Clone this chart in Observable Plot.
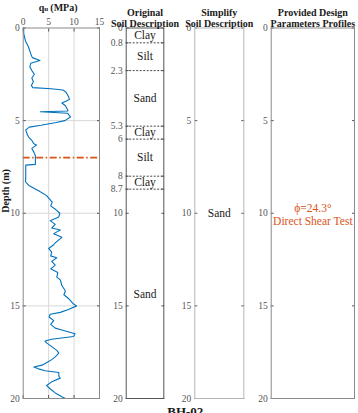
<!DOCTYPE html>
<html><head><meta charset="utf-8">
<script src="https://cdn.jsdelivr.net/npm/d3@7"></script>
<script src="https://cdn.jsdelivr.net/npm/@observablehq/plot@0.6"></script>
<style>
body{margin:0;background:#fff;}
#wrap{position:relative;width:358px;height:413px;overflow:hidden;background:#fff;}
#wrap svg{position:absolute;left:0;top:0;}
</style></head><body><div id="wrap"></div>
<script>
// ---- data ----
const cptDepth = [0, 0.3, 0.7, 1.0, 1.4, 1.6, 1.75, 1.9, 2.1, 2.3, 2.5, 2.7, 2.9, 3.1, 3.22, 3.28, 3.35, 3.45, 3.7, 3.85,
  3.95, 4.05, 4.2, 4.4, 4.48, 4.52, 4.6, 4.8, 5.0, 5.1, 5.25, 5.35, 5.5, 5.75, 5.9, 6.07, 6.25, 6.32, 6.5, 6.7,
  6.9, 7.36, 7.4, 8.05, 8.3, 8.5, 8.8, 9.05, 9.24, 9.4, 9.6, 9.8, 10.0, 10.2, 10.4, 10.6, 10.8, 10.9, 11.1, 11.3,
  11.6, 11.7, 11.9, 12.1, 12.3, 12.4, 12.6, 12.8, 13.0, 13.2, 13.45, 13.6, 13.9, 14.2, 14.4, 14.6, 14.9, 15.0, 15.2, 15.35,
  15.45, 15.6, 15.8, 16.0, 16.2, 16.3, 16.5, 16.65, 16.8, 16.9, 17.0, 17.2, 17.4, 17.55, 17.75, 17.9, 18.0, 18.2, 18.3, 18.4,
  18.5, 18.6, 18.8, 18.9, 19.1, 19.3, 19.5, 19.7, 19.9, 20.0];
const cptQu = [0.1, 0.1, 0.45, 1.0, 1.5, 1.8, 3.3, 1.5, 1.3, 1.7, 2.2, 1.7, 2.0, 1.6, 1.9, 5.5, 7.8, 8.4, 8.9, 9.1,
  8.4, 7.6, 8.3, 8.7, 8.8, 3.4, 8.7, 9.3, 8.2, 6.5, 3.5, 1.2, 0.5, 0.8, 1.1, 1.7, 2.1, 2.6, 1.7, 2.1,
  2.4, 2.4, 0.5, 0.5, 0.45, 1.1, 3.1, 4.6, 5.2, 5.7, 5.4, 6.4, 7.2, 7.0, 5.3, 6.3, 5.6, 7.3, 6.0, 7.6,
  6.3, 6.0, 5.0, 5.6, 5.4, 6.6, 5.6, 6.3, 5.4, 6.8, 6.6, 7.3, 7.6, 8.3, 8.0, 8.9, 9.9, 10.5, 8.9, 7.3,
  5.3, 5.1, 6.0, 5.4, 6.3, 7.6, 10.2, 9.9, 5.6, 4.3, 4.6, 5.6, 6.6, 7.0, 6.3, 5.6, 5.0, 3.7, 2.1, 3.0,
  4.3, 7.0, 7.0, 7.3, 5.6, 4.6, 5.4, 6.3, 7.6, 8.3];
const quTicks = [0, 5, 10, 15];
const depthTicks = [0, 5, 10, 15, 20];
const designLineDepth = [7];

const layerNames = ["Clay", "Silt", "Sand", "Clay", "Silt", "Clay", "Sand"];
const layerTop = [0, 0.8, 2.3, 5.3, 6, 8, 8.7];
const layerBottom = [0.8, 2.3, 5.3, 6, 8, 8.7, 20];
const layerBoundaries = [0.8, 2.3, 5.3, 6, 8, 8.7];
const origTicks = [0, 0.8, 2.3, 5.3, 6, 8, 8.7, 10, 15, 20];

const simpleNames = ["Sand"];
const simpleTop = [0];
const simpleBottom = [20];

const paramText = ["\u03D5=24.3\u00B0\nDirect Shear Test"];
const paramDepth = [10.08];

const panelTitles = ["Original\nSoil Description", "Simplify\nSoil Description", "Provided Design\nParameters Profiles"];
const figureTitle = ["BH-02"];
const yTitle = ["Depth (m)"];

// ---- tables ----
const cpt = cptDepth.map((d, i) => ({d, q: cptQu[i]}));
const layers = layerNames.map((name, i) => ({name, mid: (layerTop[i] + layerBottom[i]) / 2}));
const simple = simpleNames.map((name, i) => ({name, mid: (simpleTop[i] + simpleBottom[i]) / 2}));
const params = paramText.map((t, i) => ({t, d: paramDepth[i]}));

const W = 358, H = 413, MT = 27.5, MB = 15;
const FONT = "Liberation Serif";
const wrap = document.getElementById("wrap");
const tickColor = "#555";
const titleColor = "#1a1a1a";

function yAxes(ticks) {
  return [
    Plot.axisY({anchor: "left", ticks, tickSize: -3, tickPadding: 6.5, color: tickColor, label: null,
      fontFamily: FONT, fontSize: 9.5, tickFormat: d => String(d)}),
    Plot.axisY({anchor: "right", ticks, tickSize: -3, tickPadding: 0, color: tickColor, label: null,
      fontFamily: FONT, tickFormat: () => ""})
  ];
}
function panelTitle(t) {
  return Plot.text([t], {text: d => d, frameAnchor: "top", lineAnchor: "bottom", dy: -1.5, lineHeight: 1.1,
    fontFamily: FONT, fontSize: 10, fontWeight: "bold", fill: titleColor});
}

function panel(left, right, x, marks) {
  const svg = Plot.plot({
    width: W, height: H,
    marginLeft: left, marginRight: W - right, marginTop: MT, marginBottom: MB,
    style: {background: "none", fontFamily: FONT, fontSize: "9.5px", color: "#444", overflow: "visible"},
    x: {...x, axis: null},
    y: {domain: [0, 20], reverse: true, axis: null},
    marks
  });
  wrap.appendChild(svg);
}

// Panel 1: CPT qu
panel(22.7, 99, {domain: [0, 15]}, [
  Plot.gridX({ticks: [5, 10], stroke: "#d8d8d8", strokeOpacity: 1}),
  Plot.gridY({ticks: [5, 10, 15], stroke: "#d8d8d8", strokeOpacity: 1}),
  Plot.line(cpt, {x: "q", y: "d", stroke: "#0072BD", strokeWidth: 1.1}),
  Plot.ruleY(designLineDepth, {y: d => d, stroke: "#D95319", strokeWidth: 1.7, strokeDasharray: "7,2.5,1.5,2.5"}),
  Plot.axisX({anchor: "top", ticks: quTicks, tickSize: -3, tickPadding: 6, color: tickColor, label: null,
    fontFamily: FONT, fontSize: 9.5, tickFormat: d => String(d)}),
  Plot.axisX({anchor: "bottom", ticks: quTicks, tickSize: -3, tickPadding: 0, color: tickColor, label: null, tickFormat: () => ""}),
  ...yAxes(depthTicks),
  Plot.frame({stroke: "#8a8a8a"}),
  // title q_u (MPa)
  Plot.text(["q"], {text: d => d, frameAnchor: "top", textAnchor: "start", dx: -22.5, dy: -24,
    fontFamily: FONT, fontSize: 10, fontWeight: "bold", fill: titleColor}),
  Plot.text(["u"], {text: d => d, frameAnchor: "top", textAnchor: "start", dx: -17, dy: -21.5,
    fontFamily: FONT, fontSize: 7, fontWeight: "bold", fill: titleColor}),
  Plot.text(["(MPa)"], {text: d => d, frameAnchor: "top", textAnchor: "start", dx: -11, dy: -24,
    fontFamily: FONT, fontSize: 10, fontWeight: "bold", fill: titleColor}),
  Plot.text(yTitle, {text: d => d, frameAnchor: "left", rotate: -90, dx: -17.5, dy: -0.5,
    fontFamily: FONT, fontSize: 10, fontWeight: "bold", fill: titleColor})
]);

// Panel 2: original soil description
panel(125.7, 163.3, {domain: [0, 1]}, [
  Plot.ruleY(layerBoundaries, {y: d => d, stroke: "#333", strokeWidth: 0.9, strokeDasharray: "2,1.5"}),
  Plot.text(layers, {y: "mid", text: "name", frameAnchor: "middle", fontSize: 11.5, fontFamily: FONT, fill: "#1a1a1a"}),
  ...yAxes(origTicks),
  Plot.frame({stroke: "#555"}),
  panelTitle(panelTitles[0])
]);

// Panel 3: simplified soil description
panel(194.3, 243.3, {domain: [0, 1]}, [
  Plot.text(simple, {y: "mid", text: "name", frameAnchor: "middle", fontSize: 11.5, fontFamily: FONT, fill: "#1a1a1a"}),
  ...yAxes(depthTicks),
  Plot.frame({stroke: "#b5b5b5"}),
  panelTitle(panelTitles[1]),
  Plot.text(figureTitle, {text: d => d, frameAnchor: "bottom", lineAnchor: "top", dx: -34, dy: 8.5,
    fontFamily: FONT, fontSize: 13, fontWeight: "bold", fill: titleColor})
]);

// Panel 4: design parameters
panel(270.7, 354, {domain: [0, 1]}, [
  Plot.text(params, {y: "d", text: "t", frameAnchor: "middle", fontSize: 11.5, fontFamily: FONT, lineHeight: 1.13, fill: "#D95319"}),
  ...yAxes(depthTicks),
  Plot.frame({stroke: "#8a8a8a"}),
  panelTitle(panelTitles[2])
]);
</script></body></html>
